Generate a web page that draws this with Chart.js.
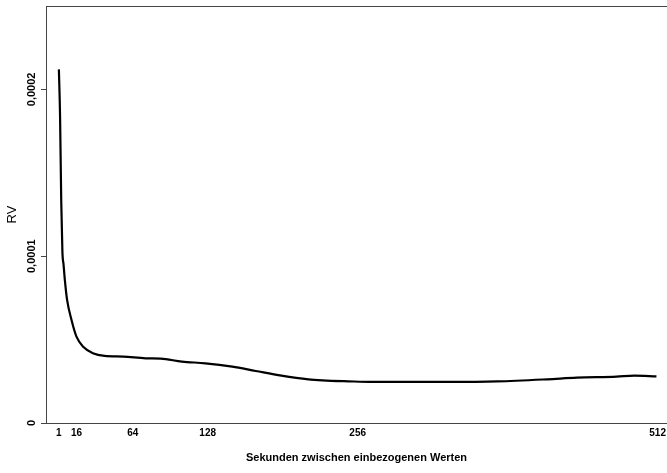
<!DOCTYPE html>
<html>
<head>
<meta charset="utf-8">
<script src="https://cdn.jsdelivr.net/npm/chart.js@4/dist/chart.umd.min.js"></script>
<style>
  body { margin: 0; background: #fff; }
  #wrap { width: 667px; height: 473px; }
</style>
</head>
<body>
<div id="wrap"><canvas id="rvChart" width="667" height="473"></canvas></div>
<script>
const seconds = [1, 2, 3, 4, 5, 6, 8, 12, 16, 22, 30, 40, 56, 75, 88, 106, 126, 149, 169, 191, 214, 226, 248, 268, 296, 333, 375, 418, 443, 477, 492, 511];
const rv = [0.000212, 0.000184, 0.0001332, 0.0001026, 0.0000948, 0.0000864, 0.0000738, 0.0000612, 0.0000518, 0.0000455, 0.0000418, 0.0000402, 0.0000398, 0.0000388, 0.0000386, 0.0000368, 0.0000358, 0.0000338, 0.0000312, 0.0000284, 0.0000262, 0.0000256, 0.000025, 0.0000246, 0.0000246, 0.0000246, 0.0000249, 0.0000262, 0.0000272, 0.0000278, 0.0000284, 0.0000279];
const xTicks = [1, 16, 64, 128, 256, 512];
const yTicks = [0, 0.0001, 0.0002];

const axisColor = "#444";
const sans = "'Liberation Sans', Arial, sans-serif";

// box line on top of the plot, like the R plot frame
const frame = {
    id: "frame",
    afterDraw(chart) {
        const { ctx, chartArea: a } = chart;
        ctx.save();
        ctx.strokeStyle = axisColor;
        ctx.lineWidth = 1;
        ctx.strokeRect(a.left + 0.5, a.top + 0.5, a.right - a.left + 5, a.bottom - a.top);
        ctx.restore();
    }
};

new Chart(document.getElementById("rvChart").getContext("2d"), {
    type: "line",
    data: {
        datasets: [{
            data: seconds.map((s, i) => ({ x: s, y: rv[i] })),
            borderColor: "#000",
            borderWidth: 2.2,
            pointRadius: 0,
            fill: false,
            cubicInterpolationMode: "monotone"
        }]
    },
    options: {
        responsive: false,
        animation: false,
        layout: { padding: { top: 6, right: 0, left: 0, bottom: 0 } },
        plugins: { legend: { display: false }, tooltip: { enabled: false } },
        scales: {
            x: {
                type: "linear",
                min: -10,
                max: 520,
                afterBuildTicks: (s) => { s.ticks = xTicks.map(v => ({ value: v })); },
                afterFit: (s) => { s.height = 50; s.paddingLeft = 0; s.paddingRight = 0; },
                grid: { display: false, drawTicks: false },
                border: { display: true, color: axisColor, width: 1 },
                ticks: { color: "#000", font: { family: sans, size: 10, weight: "bold" }, padding: 4, maxRotation: 0, autoSkip: false },
                title: {
                    display: true,
                    text: "Sekunden zwischen einbezogenen Werten",
                    color: "#000",
                    font: { family: sans, size: 11, weight: "bold" },
                    padding: { top: 0, bottom: 8 }
                }
            },
            y: {
                min: 0,
                max: 0.00025,
                afterBuildTicks: (s) => { s.ticks = yTicks.map(v => ({ value: v })); },
                afterFit: (s) => { s.width = 46; s.paddingTop = 0; s.paddingBottom = 0; },
                grid: { drawOnChartArea: false, drawTicks: true, tickLength: 5, color: axisColor },
                border: { display: true, color: axisColor, width: 1 },
                ticks: {
                    color: "#000",
                    font: { family: sans, size: 11, weight: "bold" },
                    minRotation: 90,
                    maxRotation: 90,
                    crossAlign: "center",
                    padding: -8,
                    callback: (v) => v === 0 ? "0" : v.toFixed(4).replace(".", ",")
                },
                title: {
                    display: true,
                    text: "RV",
                    color: "#000",
                    font: { family: sans, size: 13 },
                    padding: { top: 5, bottom: 0 }
                }
            }
        }
    },
    plugins: [frame]
});
</script>
</body>
</html>
